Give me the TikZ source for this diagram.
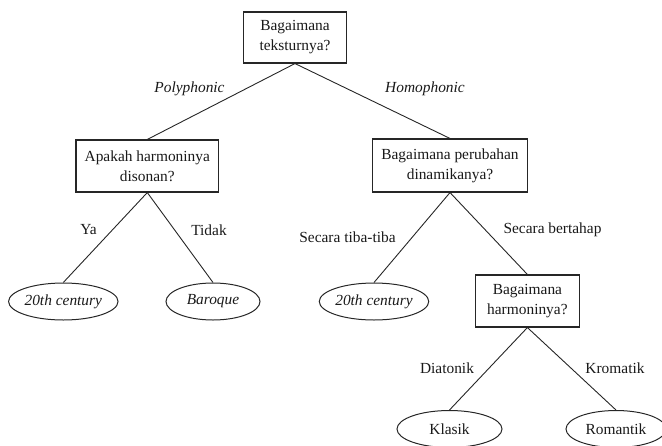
\documentclass[tikz,border=0pt]{standalone}
\usepackage{fontspec}
\setmainfont{Liberation Serif}
\usetikzlibrary{shapes.geometric}
\begin{document}
\begin{tikzpicture}[x=1pt,y=-1pt,
  txt/.style={font=\fontsize{15.4}{20}\selectfont, text=black!90},
  qbox/.style={txt, draw=black!85, line width=1.1pt, rectangle, align=center, inner sep=0pt},
  leaf/.style={txt, draw=black!85, line width=1pt, ellipse, inner sep=0pt, minimum height=37pt},
  lbl/.style={txt, inner sep=0pt},
  edge/.style={draw=black!85, line width=0.9pt}]
\useasboundingbox (0,0) rectangle (662,445);
\node[qbox, minimum width=103.4pt, minimum height=51pt] (root) at (295,37.5) {Bagaimana\\teksturnya?};
\node[qbox, minimum width=142.7pt, minimum height=52pt] (dis) at (147.3,166) {Apakah harmoninya\\disonan?};
\node[qbox, minimum width=154.6pt, minimum height=53pt] (din) at (450,165.5) {Bagaimana perubahan\\dinamikanya?};
\node[qbox, minimum width=104pt, minimum height=52pt] (har) at (527.4,301) {Bagaimana\\harmoninya?};
\node[leaf, minimum width=103pt] (c1) at (63.3,301.5) {\itshape 20th century};
\node[leaf, minimum width=94pt] (bar) at (213,301.5) {\itshape Baroque};
\node[leaf, minimum width=98pt] (c2) at (374,301.5) {\itshape 20th century};
\node[leaf, minimum width=105pt] (kla) at (449.5,429) {Klasik};
\node[leaf, minimum width=100pt] (rom) at (616,429) {Romantik};
\draw[edge] (root.south) -- (dis.north);
\draw[edge] (root.south) -- (din.north);
\draw[edge] (dis.south) -- (c1.north);
\draw[edge] (dis.south) -- (bar.north);
\draw[edge] (din.south) -- (c2.north);
\draw[edge] (din.south) -- (har.north);
\draw[edge] (har.south) -- (kla.north);
\draw[edge] (har.south) -- (rom.north);
\node[lbl] (lpoly) at (189.5,89) {\itshape Polyphonic};
\node[lbl] (lhomo) at (425,89) {\itshape Homophonic};
\node[lbl] (lya) at (88.5,230) {Ya};
\node[lbl] (ltid) at (209,230) {Tidak};
\node[lbl] (ltiba) at (347.5,237) {Secara tiba-tiba};
\node[lbl] (lber) at (552.5,230) {Secara bertahap};
\node[lbl] (ldia) at (447,368) {Diatonik};
\node[lbl] (lkro) at (615,368) {Kromatik};
\end{tikzpicture}
\end{document}
